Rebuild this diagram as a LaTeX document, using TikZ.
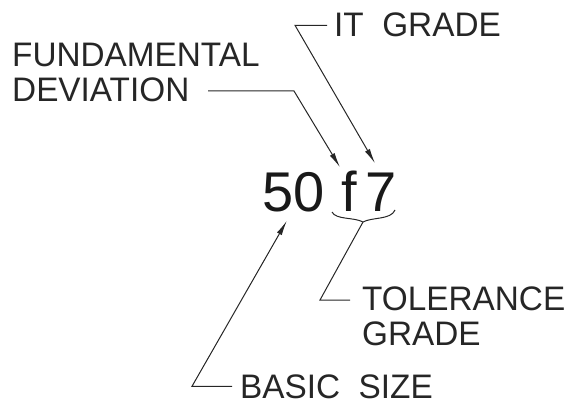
\documentclass[tikz,border=0pt]{standalone}
\usepackage{fontspec}
\setmainfont[FakeStretch=0.98,WordSpace=2.0]{Liberation Sans}
\newfontfamily\numfont{Liberation Sans}
\usetikzlibrary{arrows.meta}

\begin{document}
\begin{tikzpicture}[
  x=1pt, y=-1pt,
  lbl/.style  = {inner sep=0pt, align=left, text=black!85,
                 font=\fontsize{34}{35}\selectfont},
  num/.style  = {inner sep=0pt, anchor=base west, text=black!90,
                 font=\numfont\fontsize{56}{60}\selectfont},
  arr/.style  = {-{Latex[length=15pt,width=5.5pt]}, line width=1pt, draw=black!85},
  lead/.style = {line width=1pt, draw=black!85},
]
\useasboundingbox (0,0) rectangle (577,411);

% ── Designation ───────────────────────────────────────────────────────────────
\node[num] (size) at (262.5,212) {50};
\node[num] (dev)  at (341,212)   {f};
\node[num] (grd)  at (365,212)   {7};

% ── Labels ────────────────────────────────────────────────────────────────────
\node[lbl, anchor=base west]  (it) at (334,37)  {IT GRADE};
\node[lbl, anchor=north west] (fd) at (12,43)   {FUNDAMENTAL\\DEVIATION};
\node[lbl, anchor=north west] (tg) at (362,287) {TOLERANCE\\GRADE};
\node[lbl, anchor=base west]  (bs) at (240,398) {BASIC SIZE};

\coordinate (fdl) at (208,91);
\coordinate (bt)  at (363,222);

% ── Brace under f7 ────────────────────────────────────────────────────────────
\draw[lead] (332,212) .. controls (336,220) and (354,217) .. (bt)
            .. controls (372,217) and (391,220) .. (395,210);

% ── Leaders ───────────────────────────────────────────────────────────────────
\draw[arr] ([xshift=-7]it.west) -- ++(-32,0) -- ([shift={(10,-10)}]grd.north west);
\draw[arr] (fdl) -- ++(86,0) -- ([shift={(-1,-4)}]dev.north west);
\draw[arr] ([xshift=-8]bs.west) -- ++(-40,0) -- ([shift={(-7,8)}]size.south);
\draw[lead] (bt) -- ++(-43,78) -- ([shift={(-12,13)}]tg.north west);

\end{tikzpicture}
\end{document}
